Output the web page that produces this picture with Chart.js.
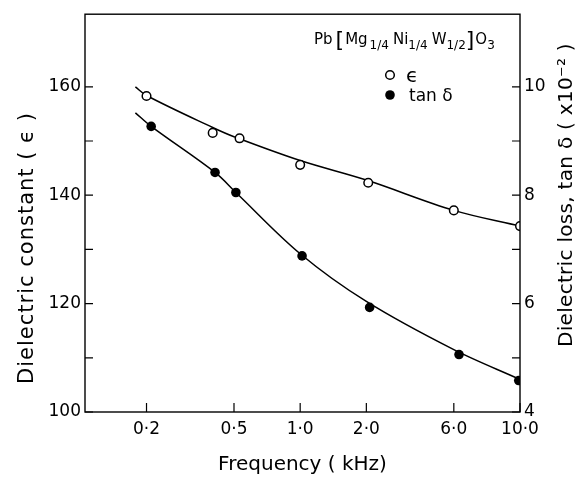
<!DOCTYPE html>
<html>
<head>
<meta charset="utf-8">
<script src="https://cdn.jsdelivr.net/npm/chart.js@4.4.1/dist/chart.umd.min.js"></script>
<style>
  html, body { margin: 0; padding: 0; background: #fff; }
</style>
</head>
<body>
<canvas id="chart" width="581" height="477"></canvas>
<script>
// Frequency (kHz) tick positions and the labels printed under them
const freqTicks = [0.2, 0.5, 1, 2, 5, 10];
const freqTickLabels = ['0·2', '0·5', '1·0', '2·0', '6·0', '10·0'];
const epsTicks = [100, 110, 120, 130, 140, 150, 160];
const tanTicks = [4, 5, 6, 7, 8, 9, 10];

// Measured points: dielectric constant (open circles)
const epsFreq = [0.2, 0.4, 0.53, 1.0, 2.04, 5.0, 10];
const epsVals = [158.3, 151.5, 150.5, 145.6, 142.3, 137.2, 134.3];

// Measured points: tan delta x10^-2 (filled circles)
const tanFreq = [0.21, 0.41, 0.51, 1.02, 2.07, 5.28, 9.87];
const tanVals = [9.27, 8.42, 8.05, 6.88, 5.93, 5.06, 4.58];

// Hand-drawn fit curves
const epsFitFreq = [0.178, 0.2, 0.4, 0.5, 1.0, 2.0, 5.0, 10];
const epsFitVals = [160.0, 158.4, 152.5, 150.8, 146.4, 142.8, 137.2, 134.3];
const tanFitFreq = [0.178, 0.21, 0.41, 0.51, 1.0, 2.0, 5.0, 10];
const tanFitVals = [9.52, 9.27, 8.42, 8.05, 6.92, 6.04, 5.15, 4.6];

const FONT = 'DejaVu Sans';
const toXY = (xs, ys) => xs.map((x, i) => ({ x: x, y: ys[i] }));

// box, inward ticks, rotated axis titles, formula and key
const decorations = {
    id: 'decorations',
    afterDraw(chart) {
        const ctx = chart.ctx;
        const a = chart.chartArea;
        const sx = chart.scales.x, sy = chart.scales.y, sy2 = chart.scales.y2;
        ctx.save();
        ctx.strokeStyle = '#000';
        ctx.lineWidth = 1.4;
        ctx.strokeRect(a.left, a.top, a.right - a.left, a.bottom - a.top);
        ctx.lineWidth = 1.2;
        ctx.beginPath();
        freqTicks.forEach(v => {
            const px = sx.getPixelForValue(v);
            ctx.moveTo(px, a.bottom); ctx.lineTo(px, a.bottom - 9);
        });
        epsTicks.forEach(v => {
            const py = sy.getPixelForValue(v);
            ctx.moveTo(a.left, py); ctx.lineTo(a.left + 8, py);
        });
        tanTicks.forEach(v => {
            const py = sy2.getPixelForValue(v);
            ctx.moveTo(a.right, py); ctx.lineTo(a.right - 8, py);
        });
        ctx.stroke();

        ctx.fillStyle = '#000';
        ctx.textBaseline = 'alphabetic';
        ctx.textAlign = 'center';
        ctx.font = '21px "' + FONT + '"';
        ctx.letterSpacing = '1px';
        // left title
        ctx.save();
        ctx.translate(33, 248);
        ctx.rotate(-Math.PI / 2);
        ctx.fillText('Dielectric constant ( ϵ )', 0, 0);
        ctx.restore();
        // right title
        ctx.font = '20px "' + FONT + '"';
        ctx.letterSpacing = '0.3px';
        ctx.save();
        ctx.translate(572, 195);
        ctx.rotate(-Math.PI / 2);
        ctx.fillText('Dielectric loss, tan δ ( x10⁻² )', 0, 0);
        ctx.restore();
        ctx.letterSpacing = '0px';

        // compound formula
        ctx.textAlign = 'left';
        let x = 314;
        const base = 44;
        const part = (txt, size, dy) => {
            ctx.font = size + 'px "' + FONT + '"';
            ctx.fillText(txt, x, base + dy);
            x += ctx.measureText(txt).width;
        };
        part('Pb', 15, 0); x += 3;
        part('[', 22, 3); x += 1;
        part('Mg', 15, 0); x += 2;
        part('1/4', 12, 5); x += 4;
        part('Ni', 15, 0);
        part('1/4', 12, 5); x += 4;
        part('W', 15, 0);
        part('1/2', 12, 5);
        part(']', 22, 3); x += 1;
        part('O', 15, 0);
        part('3', 12, 5);

        // key
        ctx.lineWidth = 1.5;
        ctx.beginPath();
        ctx.arc(390, 75, 4.3, 0, Math.PI * 2);
        ctx.fillStyle = '#fff';
        ctx.fill();
        ctx.stroke();
        ctx.fillStyle = '#000';
        ctx.beginPath();
        ctx.arc(390, 95, 4.8, 0, Math.PI * 2);
        ctx.fill();
        ctx.font = '20px "' + FONT + '"';
        ctx.fillText('ϵ', 406, 82);
        ctx.font = '17px "' + FONT + '"';
        ctx.fillText('tan δ', 409, 101);
        ctx.restore();
    }
};

new Chart(document.getElementById('chart'), {
    type: 'line',
    data: {
        datasets: [
            {
                data: toXY(epsFreq, epsVals), yAxisID: 'y', showLine: false,
                pointRadius: 4.3, pointBorderWidth: 1.5,
                pointBackgroundColor: '#fff', pointBorderColor: '#000'
            },
            {
                data: toXY(tanFreq, tanVals), yAxisID: 'y2', showLine: false,
                pointRadius: 4.8, pointBorderWidth: 0,
                pointBackgroundColor: '#000', pointBorderColor: '#000'
            },
            {
                data: toXY(epsFitFreq, epsFitVals), yAxisID: 'y',
                borderColor: '#000', borderWidth: 1.5, pointRadius: 0,
                tension: 0.35
            },
            {
                data: toXY(tanFitFreq, tanFitVals), yAxisID: 'y2',
                borderColor: '#000', borderWidth: 1.5, pointRadius: 0,
                tension: 0.35
            }
        ]
    },
    options: {
        responsive: false,
        devicePixelRatio: 1,
        animation: false,
        layout: { padding: { top: 9, left: 0, right: 0, bottom: 0 } },
        plugins: { legend: { display: false }, tooltip: { enabled: false } },
        scales: {
            x: {
                type: 'logarithmic', min: 0.105, max: 10, bounds: 'data',
                afterBuildTicks: s => { s.ticks = freqTicks.map(v => ({ value: v })); },
                afterFit: s => { s.height = 65; },
                grid: { display: false, drawTicks: false }, border: { display: false },
                ticks: {
                    autoSkip: false, maxRotation: 0, padding: 7, color: '#000',
                    font: { family: FONT, size: 17 },
                    callback: (v, i) => freqTickLabels[i]
                },
                title: {
                    display: true, text: 'Frequency ( kHz)', color: '#000',
                    font: { family: FONT, size: 20 }, padding: { top: 0, bottom: 0 }
                }
            },
            y: {
                position: 'left', min: 100, max: 173.4, bounds: 'data',
                afterBuildTicks: s => { s.ticks = epsTicks.map(v => ({ value: v })); },
                afterFit: s => { s.width = 85; },
                grid: { display: false, drawTicks: false }, border: { display: false },
                ticks: {
                    padding: 4, color: '#000', font: { family: FONT, size: 17 },
                    callback: v => (v % 20 === 0 ? String(v) : '')
                }
            },
            y2: {
                position: 'right', min: 4, max: 11.34, bounds: 'data',
                afterBuildTicks: s => { s.ticks = tanTicks.map(v => ({ value: v })); },
                afterFit: s => { s.width = 61; },
                grid: { display: false, drawTicks: false }, border: { display: false },
                ticks: {
                    padding: 4, color: '#000', font: { family: FONT, size: 17 },
                    callback: v => (v % 2 === 0 ? String(v) : '')
                }
            }
        }
    },
    plugins: [decorations]
});
</script>
</body>
</html>
